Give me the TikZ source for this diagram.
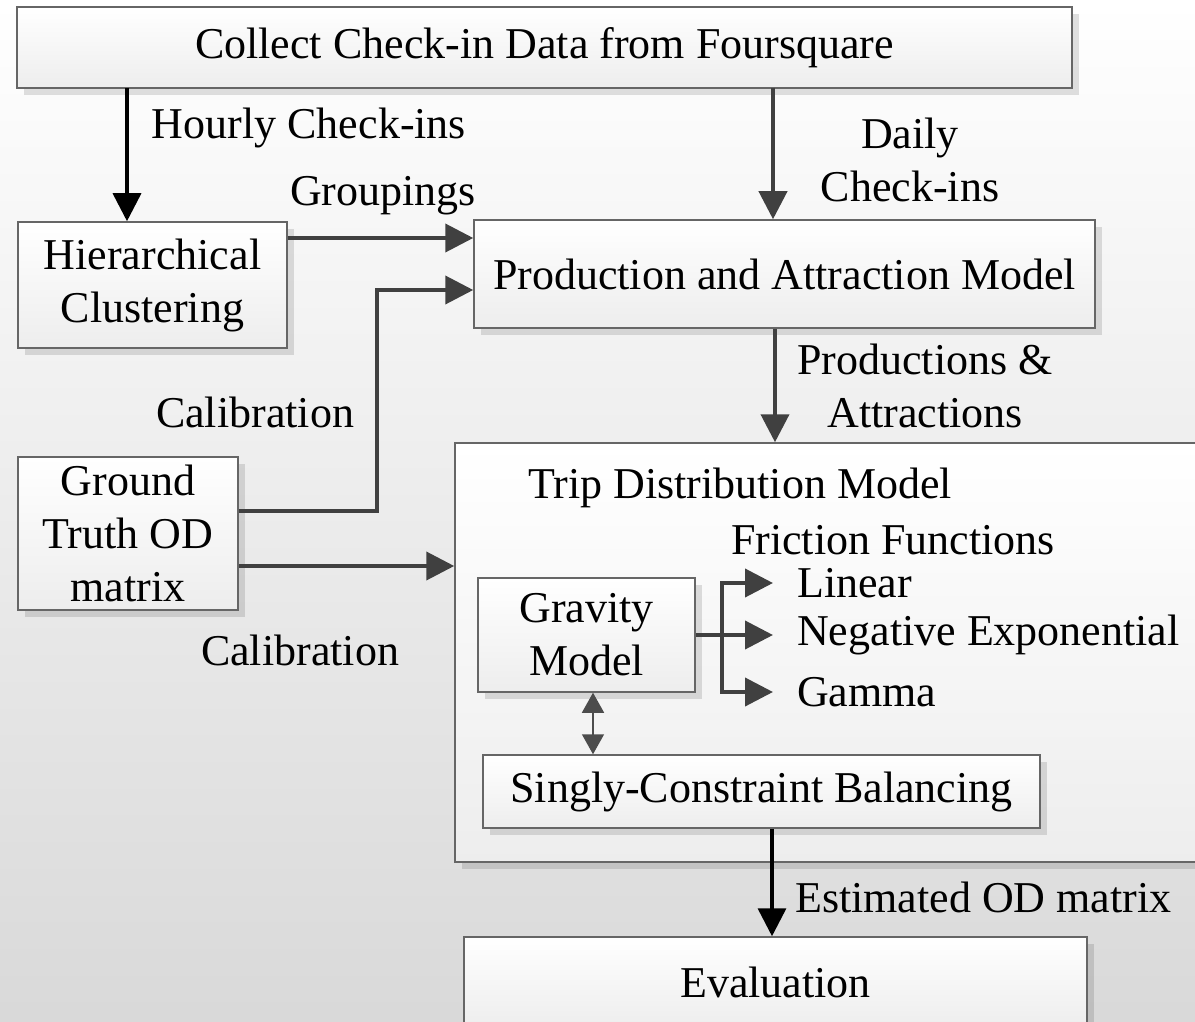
\documentclass[tikz,border=0pt]{standalone}
\usepackage{fontspec}
\setmainfont{Liberation Serif}
\usetikzlibrary{
    arrows.meta,
    shadows
}

\begin{document}
\begin{tikzpicture}[x=1pt,y=-1pt,
    font=\fontsize{44}{53}\selectfont,
    box/.style={draw=black!60, line width=1.5pt, top color=white, bottom color=black!7,
        drop shadow={shadow xshift=7pt, shadow yshift=-7pt, fill=black, opacity=0.12},
        align=center, inner sep=2pt},
    txt/.style={inner sep=2pt, align=center},
    gline/.style={draw=black!75, line width=4pt},
    garrow/.style={gline, -{Triangle[length=28pt,width=28pt]}},
    karrow/.style={draw=black, line width=3.5pt, -{Triangle[length=28pt,width=28pt]}},
    darrow/.style={draw=black!70, line width=1.5pt,
        {Triangle[length=20pt,width=22pt]}-{Triangle[length=20pt,width=22pt]}}]

% Background
\useasboundingbox (0,0) rectangle (1195,1022);
\shade[top color=white, bottom color=black!15] (0,0) rectangle (1195,1022);

% Data source
\node[box, minimum width=1055pt, minimum height=81pt] (collect) at (544.5,47.5) {Collect Check-in Data from Foursquare};

% Clustering and production model
\node[box, minimum width=269pt, minimum height=126pt] (hier) at (152.5,285) {Hierarchical\\Clustering};
\node[box, minimum width=621pt, minimum height=108pt] (prod) at (784.5,274) {Production and Attraction Model};

% Ground truth
\node[box, minimum width=220pt, minimum height=153pt] (ground) at (128,533.5) {Ground\\Truth OD\\matrix};

% Trip distribution block
\node[box, minimum width=745pt, minimum height=419pt] (trip) at (827.5,652.5) {};
\node[txt] (triptitle) at (740,488) {Trip Distribution Model};
\node[txt] (friction) at (893,540) {Friction Functions};
\node[box, minimum width=217pt, minimum height=114pt] (gravity) at (586.5,635) {Gravity\\Model};
\node[box, minimum width=557pt, minimum height=73pt] (singly) at (761.5,791.5) {Singly-Constraint Balancing};

% Friction function names
\node[txt, anchor=west] (lin) at (795,583) {Linear};
\node[txt, anchor=west] (negexp) at (795,635) {Negative Exponential};
\node[txt, anchor=west] (gam) at (795,692) {Gamma};

% Evaluation
\node[box, minimum width=623pt, minimum height=90pt] (eval) at (775.5,982) {Evaluation};

% Arrow labels
\node[txt] (hourly) at (309,128) {Hourly Check-ins};
\node[txt] (daily) at (910,160) {Daily\\Check-ins};
\node[txt] (groupings) at (383,196) {Groupings};
\node[txt] (calup) at (255,412) {Calibration};
\node[txt] (prodattr) at (925,386) {Productions \&\\Attractions};
\node[txt] (caldown) at (300,650) {Calibration};
\node[txt, anchor=west] (estod) at (793,897) {Estimated OD matrix};

% Check-ins
\coordinate (hourlytop) at (127,88);
\draw[karrow] (hourlytop) -- (hourlytop |- hier.north);
\coordinate (dailytop) at (773,88);
\draw[garrow] (dailytop) -- (dailytop |- prod.north);

% Groupings
\coordinate (grp) at ([yshift=47pt]hier.east);
\draw[garrow] (grp) -- (grp -| prod.west);

% Calibration
\coordinate (cal1) at ([yshift=22.5pt]ground.east);
\coordinate (bend) at (377,290);
\coordinate (cal1end) at ([yshift=-16pt]prod.west);
\draw[garrow] (cal1) -| (bend) -- (cal1end);
\coordinate (cal2) at ([yshift=-32.5pt]ground.east);
\draw[garrow] (cal2) -- (cal2 -| trip.west);

% Productions
\coordinate (pa) at ([xshift=-9.5pt]prod.south);
\draw[garrow] (pa) -- (pa |- trip.north);

% Friction functions
\coordinate (fork) at (722,635);
\draw[gline] (gravity.east) -- (fork);
\draw[garrow] (fork) |- ([xshift=-22pt]lin.west);
\draw[garrow] (fork) -- ([xshift=-22pt]negexp.west);
\draw[garrow] (fork) |- ([xshift=-22pt]gam.west);

% Balancing loop
\coordinate (dbl) at ([xshift=6.5pt]gravity.south);
\draw[darrow] (dbl) -- (dbl |- singly.north);

% Estimated OD
\coordinate (est) at ([xshift=10.5pt]singly.south);
\draw[karrow] (est) -- (est |- eval.north);

\end{tikzpicture}
\end{document}
